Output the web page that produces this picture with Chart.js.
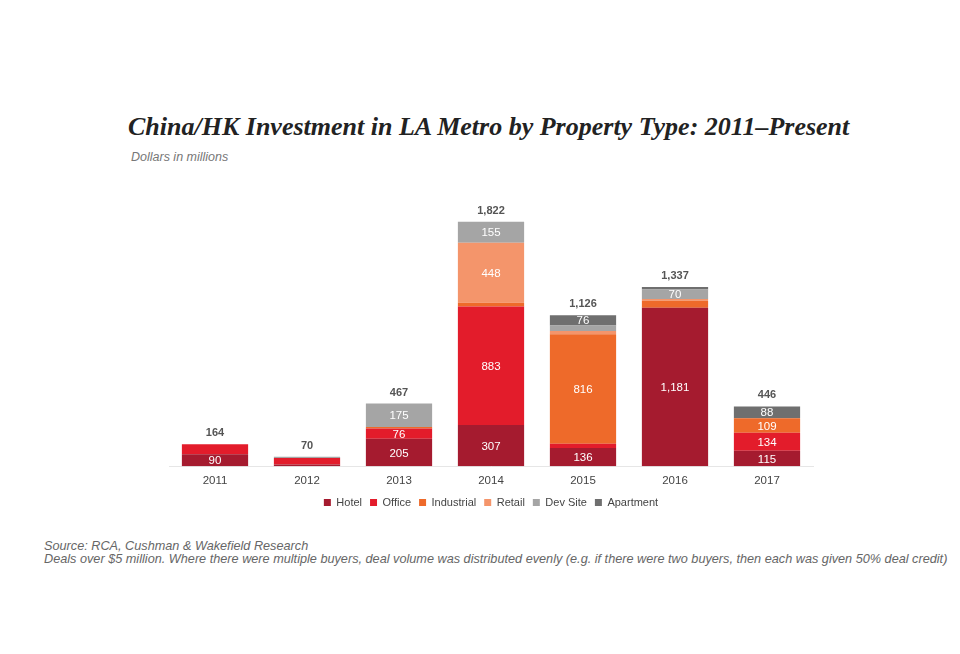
<!DOCTYPE html>
<html>
<head>
<meta charset="utf-8">
<script src="https://cdn.jsdelivr.net/npm/chart.js@4"></script>
<style>
    body { margin: 0; background: #fff; width: 960px; height: 654px; overflow: hidden; position: relative; font-family: "Liberation Sans", Arial, sans-serif; }
    #wrap { position: absolute; left: 0; top: 0; width: 960px; height: 518px; }
    .title { position: absolute; left: 128px; top: 112px; font-family: "Liberation Serif", "DejaVu Serif", serif; font-style: italic; font-weight: bold; font-size: 26px; color: #222; }
    .sub { position: absolute; left: 131px; top: 150px; font-style: italic; font-size: 12.5px; color: #777; }
    .source { position: absolute; left: 44px; top: 540px; font-style: italic; font-size: 12.7px; color: #666; line-height: 13px; }
</style>
</head>
<body>
<div class="title">China/HK Investment in LA Metro by Property Type: 2011–Present</div>
<div class="sub">Dollars in millions</div>
<div id="wrap"><canvas id="myChart"></canvas></div>
<div class="source">Source: RCA, Cushman &amp; Wakefield Research<br>Deals over $5 million. Where there were multiple buyers, deal volume was distributed evenly (e.g. if there were two buyers, then each was given 50% deal credit)</div>
<script>
const years = ["2011", "2012", "2013", "2014", "2015", "2016", "2017"];
const hotel = [90, 12, 205, 307, 136, 1181, 115];
const office = [74, 50, 76, 883, 32, 0, 134];
const industrial = [0, 0, 11, 29, 816, 52, 109];
const retail = [0, 0, 0, 448, 25, 14, 0];
const devSite = [0, 8, 175, 155, 41, 70, 0];
const apartment = [0, 0, 0, 0, 76, 20, 88];
const totals = [164, 70, 467, 1822, 1126, 1337, 446];

// segment labels that the original leaves out
const hiddenLabels = [["Office", "2011"]];

const series = [
    { label: "Hotel", data: hotel, color: "#a51b2f" },
    { label: "Office", data: office, color: "#e31c2b" },
    { label: "Industrial", data: industrial, color: "#ee6a2a" },
    { label: "Retail", data: retail, color: "#f4956b" },
    { label: "Dev Site", data: devSite, color: "#a5a5a5" },
    { label: "Apartment", data: apartment, color: "#6f6f6f" },
];

const barLabels = {
    id: "barLabels",
    afterDatasetsDraw(chart) {
        const ctx = chart.ctx;
        ctx.save();
        ctx.textAlign = "center";
        ctx.textBaseline = "middle";
        ctx.font = "11.5px 'Liberation Sans', Arial, sans-serif";
        ctx.fillStyle = "#fff";
        chart.data.datasets.forEach((ds, i) => {
            const meta = chart.getDatasetMeta(i);
            meta.data.forEach((bar, j) => {
                const v = ds.data[j];
                if (v < 70) return;
                if (hiddenLabels.some((h) => h[0] === ds.label && h[1] === years[j])) return;
                ctx.fillText(v.toLocaleString("en-US"), bar.x, (bar.y + bar.base) / 2 + 1);
            });
        });
        ctx.font = "bold 11px 'Liberation Sans', Arial, sans-serif";
        ctx.fillStyle = "#555";
        const y = chart.scales.y;
        const x = chart.scales.x;
        totals.forEach((t, j) => {
            ctx.fillText(t.toLocaleString("en-US"), x.getPixelForValue(j), y.getPixelForValue(t) - 11);
        });
        ctx.restore();
    },
};

new Chart(document.querySelector("#myChart"), {
    type: "bar",
    data: {
        labels: years,
        datasets: series.map((s) => ({
            label: s.label,
            data: s.data,
            backgroundColor: s.color,
            borderWidth: 0,
            categoryPercentage: 0.72,
            barPercentage: 1,
        })),
    },
    options: {
        responsive: true,
        maintainAspectRatio: false,
        animation: false,
        layout: { padding: { left: 169, right: 147, top: 198, bottom: 0 } },
        plugins: {
            legend: {
                position: "bottom",
                labels: {
                    boxWidth: 7,
                    boxHeight: 7,
                    padding: 8,
                    color: "#444",
                    font: { size: 11, family: "'Liberation Sans', Arial, sans-serif" },
                },
            },
            tooltip: { enabled: false },
        },
        scales: {
            x: {
                stacked: true,
                grid: { display: false, drawTicks: false },
                border: { color: "#e6e6e6" },
                ticks: { color: "#444", padding: 8, font: { size: 11.5, family: "'Liberation Sans', Arial, sans-serif" } },
                afterFit(scale) {
                    scale.height -= 7;
                },
            },
            y: {
                stacked: true,
                display: false,
                min: 0,
                max: 2000,
            },
        },
    },
    plugins: [barLabels],
});
</script>
</body>
</html>
